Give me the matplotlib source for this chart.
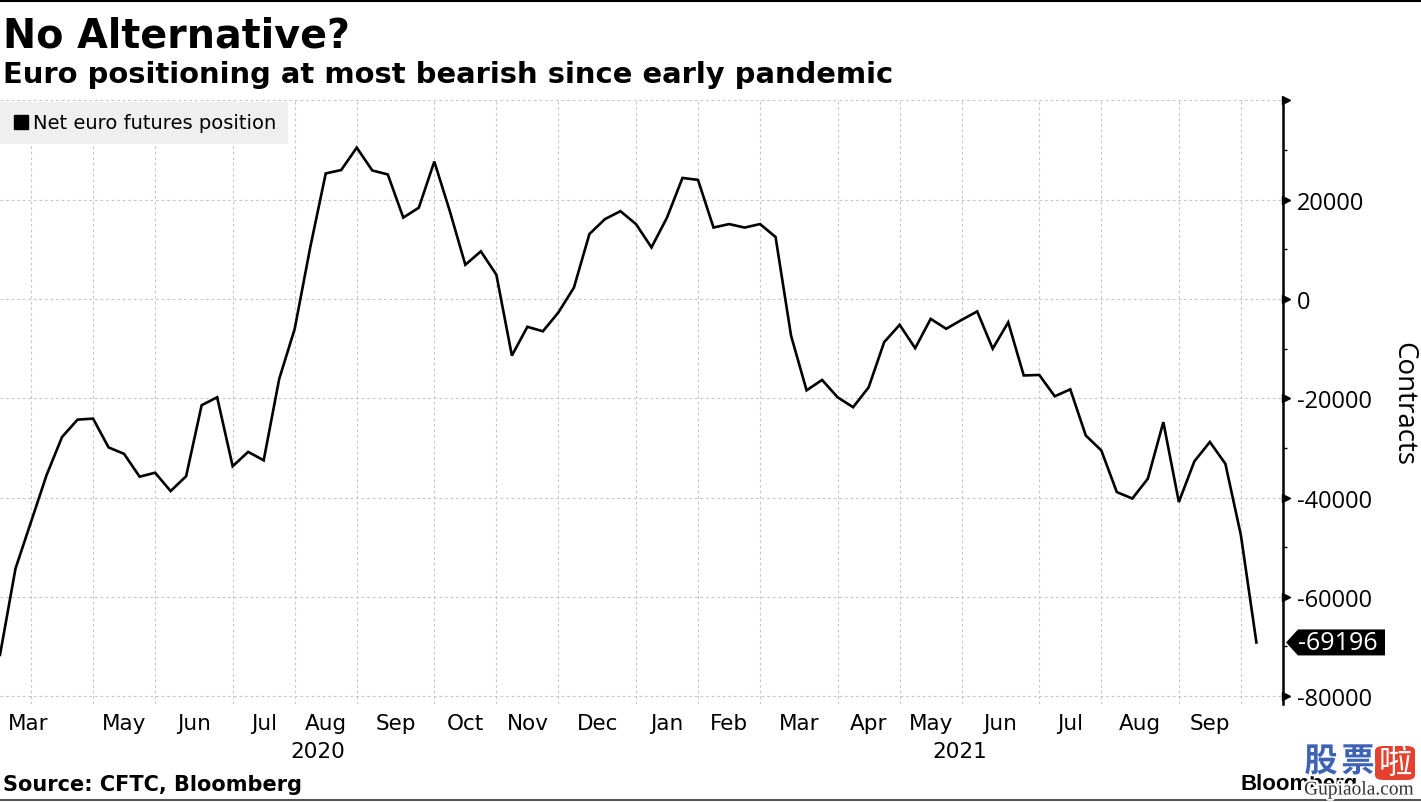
import numpy as np
import pandas as pd
import matplotlib
matplotlib.use("Agg")
import matplotlib.pyplot as plt
import matplotlib.dates as mdates
import matplotlib.transforms as mtransforms
import matplotlib.patheffects as pe
from matplotlib.lines import Line2D
from matplotlib.patches import FancyBboxPatch, Polygon

# CFTC net euro futures position, weekly (Tuesdays), contracts
first_week = "2020-03-17"
net_position = [
    -71700, -54300, -44900, -35500, -27800, -24300, -24100, -29900, -31200, -35800,
    -35000, -38700, -35700, -21400, -19800, -33700, -30800, -32500, -16100, -6000,
    10400, 25300, 26000, 30500, 25900, 25100, 16400, 18400, 27700, 17700,
    6900, 9600, 4900, -11400, -5600, -6500, -2700, 2300, 13100, 16100,
    17700, 15100, 10400, 16400, 24400, 24000, 14400, 15100, 14400, 15100,
    12500, -7400, -18400, -16300, -19800, -21800, -17800, -8700, -5200, -9900,
    -4000, -6000, -4200, -2500, -10000, -4700, -15400, -15300, -19600, -18200,
    -27500, -30500, -38900, -40200, -36200, -24800, -40900, -32700, -28800, -33200,
    -47600, -69196,
]
# one label per month Mar 2020 .. Sep 2021 (Apr 2020 is dropped on the original)
month_labels = ["Mar", "", "May", "Jun", "Jul", "Aug", "Sep", "Oct", "Nov", "Dec",
                "Jan", "Feb", "Mar", "Apr", "May", "Jun", "Jul", "Aug", "Sep"]
year_labels = ["2020", "2021"]
y_ticks = [40000, 20000, 0, -20000, -40000, -60000, -80000]
y_tick_labels = ["", "20000", "0", "-20000", "-40000", "-60000", "-80000"]

W, H = 1421, 803
dates = pd.date_range(first_week, periods=len(net_position), freq="7D")
x_left = dates[0]
x_right = dates[-1] + pd.Timedelta(days=12)

# gridlines sit on the last weekly point of each month
month_last = dates.to_series().groupby(dates.to_period("M")).max()
bounds = list(month_last.iloc[:-1])

fig = plt.figure(figsize=(W / 100, H / 100), dpi=100)
ax = fig.add_axes([0, 1 - 705 / H, 1283 / W, 604 / H])

ax.plot(dates, net_position, color="black", lw=1.9, zorder=3,
        solid_joinstyle="miter")
ax.set_xlim(x_left, x_right)
ax.set_ylim(-81600, 40100)

grid_kw = dict(color="#c8c8c8", lw=0.8, linestyle=(0, (2.5, 2.5)))
ax.set_xticks(bounds)
ax.tick_params(axis="x", length=0, labelbottom=False)
ax.grid(axis="x", **grid_kw)

ax.yaxis.tick_right()
ax.set_yticks(y_ticks, labels=y_tick_labels)
ax.set_yticks(np.arange(-70000, 40000, 20000), minor=True)
ax.tick_params(axis="y", which="major", length=0, pad=10, labelsize=17)
ax.tick_params(axis="y", which="minor", length=3, width=1, color="black")
for lab in ax.get_yticklabels():
    lab.set_family("Open Sans")
ax.grid(axis="y", which="major", **grid_kw)

for side in ["left", "top", "bottom"]:
    ax.spines[side].set_visible(False)
ax.spines["right"].set_linewidth(1.8)

# triangle tick marks on the right spine
spine_tr = mtransforms.blended_transform_factory(ax.transAxes, ax.transData)
tri_tr = mtransforms.offset_copy(spine_tr, fig=fig, x=3, units="dots")
ax.plot([1] * len(y_ticks), y_ticks, ls="", marker=">", ms=6, color="black",
        transform=tri_tr, clip_on=False)

# last value tag: small pointed black label next to the spine
last = net_position[-1]
sx, sy = spine_tr.transform((1, last))
tag = Polygon([(sx + 3, sy), (sx + 15, sy + 13), (sx + 102, sy + 13),
               (sx + 102, sy - 13), (sx + 15, sy - 13)], closed=True,
              fc="black", ec="none", transform=None)
fig.patches.append(tag)
fig.text((sx + 15) / W, sy / H, f"{last:d}", ha="left", va="center",
         color="white", fontsize=18, family="Open Sans")

# month and year labels
xnum = lambda d: mdates.date2num(d)
edges = [x_left] + bounds
lab_tr = mtransforms.blended_transform_factory(ax.transData, fig.transFigure)
for k, name in enumerate(month_labels):
    if not name:
        continue
    if k == 0:
        ax.text(xnum(x_left) + 3.5, 1 - 724 / H, name, transform=lab_tr,
                ha="left", va="center", fontsize=15.5)
        continue
    mid = edges[k] + (edges[k + 1] - edges[k]) / 2
    ax.text(xnum(mid), 1 - 724 / H, name, transform=lab_tr,
            ha="center", va="center", fontsize=15.5)

year_end = month_last[pd.Period("2020-12", "M")]
year_spans = [(x_left, year_end), (year_end, x_right)]
for name, (a, b) in zip(year_labels, year_spans):
    ax.text(xnum(a + (b - a) / 2), 1 - 752 / H, name, transform=lab_tr,
            ha="center", va="center", fontsize=15.5)

# legend
handle = Line2D([], [], ls="", marker="s", ms=10, color="black")
leg = ax.legend([handle], ["Net euro futures position"], loc="upper left",
                bbox_to_anchor=(0, 0.997), borderaxespad=0, frameon=True,
                fancybox=False, facecolor="#efefef", edgecolor="none",
                framealpha=1, fontsize=14, handletextpad=0.1,
                handlelength=1.0, borderpad=0.6)
leg.set_zorder(5)

fig.text(1403 / W, 1 - 404 / H, "Contracts", rotation=-90, ha="center",
         va="center", fontsize=20, family="Open Sans")

# titles and footer
fig.text(3 / W, 1 - 47 / H, "No Alternative?", fontsize=28.5, weight="bold",
         va="baseline")
fig.text(3 / W, 1 - 83 / H, "Euro positioning at most bearish since early pandemic",
         fontsize=20.9, weight="bold", va="baseline")
fig.text(3 / W, 1 - 791 / H, "Source: CFTC, Bloomberg", fontsize=15,
         weight="bold", va="baseline")
fig.text(1240 / W, 1 - 790 / H, "Bloomberg", fontsize=16, weight="bold",
         family="Liberation Sans", va="baseline")

# site watermark over the corner
halo = [pe.withStroke(linewidth=3, foreground="white")]
for ch, xpx in zip(["股", "票"], [1321, 1358]):
    fig.text(xpx / W, 1 - 763 / H, ch, fontsize=24, weight="bold",
             color="#3d63b5", family="Noto Sans CJK SC", ha="center",
             va="center", path_effects=halo)
fig.patches.append(FancyBboxPatch((1375 / W, 1 - 781 / H), 40 / W, 34 / H,
                                  boxstyle="round,pad=0,rounding_size=0.006",
                                  transform=fig.transFigure, fc="#e5412e",
                                  ec="none"))
fig.text(1395 / W, 1 - 764 / H, "啦", fontsize=24, color="white",
         family="Noto Sans CJK SC", ha="center", va="center")
fig.text(1359 / W, 1 - 791 / H, "Gupiaola.com", fontsize=14, color="#333333",
         family="Liberation Serif", ha="center", va="center", path_effects=halo)

fig.add_artist(Line2D([0, 1], [1 - 1 / H] * 2, color="black", lw=2.2))
fig.add_artist(Line2D([0, 1], [1 - 801 / H] * 2, color="#555555", lw=1.5))

fig.savefig("out.png", dpi=100)
